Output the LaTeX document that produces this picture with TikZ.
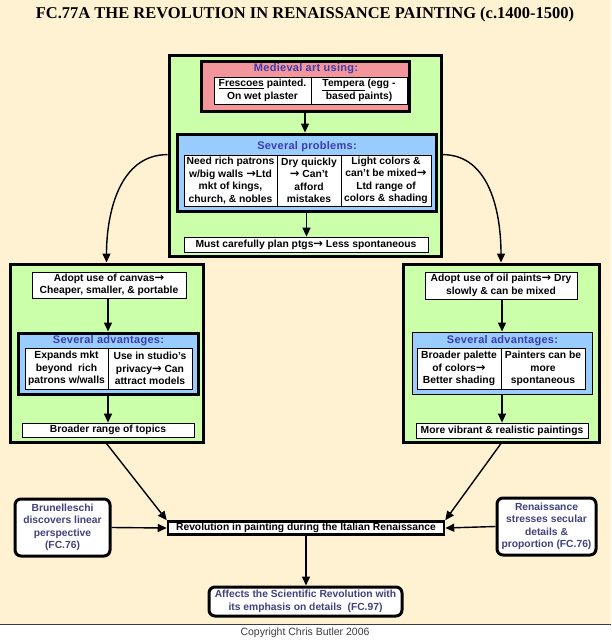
\documentclass[tikz,border=0pt]{standalone}
\usepackage{fontspec}
\setmainfont{Liberation Sans}
\newfontfamily\titlefont{Liberation Serif}
\newfontfamily\arrowfont{DejaVu Sans}
\newfontfamily\headfont[LetterSpace=2.5]{Liberation Sans}
\newcommand{\rarr}{{\arrowfont\bfseries\fontsize{11.5}{10}\selectfont →}}
\usetikzlibrary{arrows.meta}
\definecolor{cream}{RGB}{255,242,210}
\definecolor{greenbg}{RGB}{204,255,170}
\definecolor{pinkbg}{RGB}{242,150,155}
\definecolor{bluebg}{RGB}{153,204,255}
\definecolor{headblue}{RGB}{60,60,175}
\definecolor{bottext}{RGB}{65,65,125}
\definecolor{rulegray}{RGB}{60,60,60}
\tikzset{
  body/.style={font=\fontsize{10.3}{12.5}\selectfont\bfseries, align=center},
  frame/.style={draw, line width=3pt, inner sep=0pt},
  greenbox/.style={frame, fill=greenbg},
  cell/.style={body, draw, fill=white, line width=0.8pt, inner sep=0pt},
  head/.style={font=\headfont\fontsize{11}{13}\selectfont\bfseries, text=headblue, inner sep=0pt},
  arr/.style={-{Triangle[length=9pt,width=8pt]}, line width=1.4pt},
  rbox/.style={body, draw, line width=3pt, rounded corners=6pt, fill=white, text=bottext, inner sep=0pt},
}
\begin{document}
\begin{tikzpicture}[x=1pt,y=-1pt]
\useasboundingbox (0,0) rectangle (611,640);
\fill[cream] (0,0) rectangle (611,624);
\fill[white] (0,624) rectangle (611,640);
\draw[rulegray, line width=1pt] (0,624) -- (611,624);

\node[font=\titlefont\fontsize{16.5}{18}\selectfont\bfseries] (title) at (305,15) {FC.77A THE REVOLUTION IN RENAISSANCE PAINTING (c.1400-1500)};

% top green
\node[greenbox, minimum width=272pt, minimum height=201pt] (topgreen) at (305,155.5) {};
\node[frame, fill=pinkbg, minimum width=208pt, minimum height=50pt] (pink) at (305,86) {};
\node[head] (pinkhead) at (306,69) {Medieval art using:};
\node[cell, minimum width=97pt, minimum height=27pt] (fres) at (262.5,90.5) {\underline{Frescoes} painted.\\On wet plaster};
\node[cell, minimum width=96pt, minimum height=27pt] (temp) at (359,90.5) {\underline{Tempera} (egg -\\based paints)};
\node[frame, fill=bluebg, minimum width=259pt, minimum height=77pt] (probs) at (306.5,172.5) {};
\node[head] (probshead) at (307,147) {Several problems:};
\node[cell, minimum width=93pt, minimum height=51pt] (pa) at (230.5,180.5) {Need rich patrons\\w/big walls \rarr Ltd\\mkt of kings,\\church, \& nobles};
\node[cell, minimum width=64pt, minimum height=51pt] (pb) at (309,180.5) {Dry quickly\\\rarr\ Can't\\afford\\mistakes};
\node[cell, minimum width=90pt, minimum height=51pt] (pc) at (386,180.5) {Light colors \&\\can't be mixed\rarr\\Ltd range of\\colors \& shading};
\node[cell, minimum width=244pt, minimum height=15pt] (must) at (306,244.5) {Must carefully plan ptgs\rarr\ Less spontaneous};
\draw[arr] (pink.south) -- (pink.south |- probs.north);
\draw[arr] (probs.south) -- (probs.south |- must.north);

% left green
\node[greenbox, minimum width=193pt, minimum height=178pt] (leftgreen) at (106.5,353) {};
\node[cell, minimum width=154pt, minimum height=26pt] (canvas) at (109,285) {Adopt use of canvas\rarr\\Cheaper, smaller, \& portable};
\node[frame, fill=bluebg, minimum width=180pt, minimum height=61pt] (advl) at (108,363.5) {};
\node[head] (advlhead) at (108.5,340.5) {Several advantages:};
\node[cell, minimum width=83pt, minimum height=41pt] (la) at (66.5,368.5) {Expands mkt\\beyond\ \ rich\\patrons w/walls};
\node[cell, minimum width=84pt, minimum height=41pt] (lb) at (150,368.5) {Use in studio's\\privacy\rarr\ Can\\attract models};
\node[cell, minimum width=172pt, minimum height=14pt] (topics) at (108,430) {Broader range of topics};
\draw[arr] (canvas.south -| advl.north) -- (advl.north);
\draw[arr] (advl.south) -- (advl.south |- topics.north);

% right green
\node[greenbox, minimum width=196pt, minimum height=178pt] (rightgreen) at (501,353) {};
\node[cell, minimum width=152pt, minimum height=27pt] (oil) at (501,285.5) {Adopt use of oil paints\rarr\ Dry\\slowly \& can be mixed};
\node[draw, line width=1pt, fill=bluebg, minimum width=180pt, minimum height=62pt, inner sep=0pt] (advr) at (502,363) {};
\node[head] (advrhead) at (502.5,340.5) {Several advantages:};
\node[cell, minimum width=84pt, minimum height=41pt] (ra) at (459,368.5) {Broader palette\\of colors\rarr\\Better shading};
\node[cell, minimum width=84pt, minimum height=41pt] (rb) at (543,368.5) {Painters can be\\more\\spontaneous};
\node[cell, minimum width=172pt, minimum height=15pt] (vivid) at (502,430.5) {More vibrant \& realistic paintings};
\draw[arr] (oil.south -| advr.north) -- (advr.north);
\draw[arr] (advr.south) -- (advr.south |- vivid.north);

% curved connectors
\draw[arr] (topgreen.west |- pa.north) to[out=180,in=90] (leftgreen.north);
\draw[arr] (topgreen.east |- pc.north) to[out=0,in=90] (rightgreen.north);

% bottom
\node[draw, fill=white, line width=2.5pt, minimum width=276pt, minimum height=13pt, inner sep=0pt, font=\fontsize{10.3}{12}\selectfont\bfseries] (rev) at (306,528) {Revolution in painting during the Italian Renaissance};
\node[rbox, minimum width=95pt, minimum height=57pt] (bru) at (62.5,527.5) {Brunelleschi\\discovers linear\\perspective\\(FC.76)};
\node[rbox, minimum width=99pt, minimum height=57pt] (ren) at (546.5,526.5) {Renaissance\\stresses secular\\details \&\\proportion (FC.76)};
\node[rbox, minimum width=193pt, minimum height=29pt] (aff) at (305.5,601.5) {Affects the Scientific Revolution with\\its emphasis on details\ \ (FC.97)};
\draw[arr] (leftgreen.south) -- (rev.north west);
\draw[arr] (rightgreen.south) -- (rev.north east);
\draw[arr] (bru.east) -- (rev.west);
\draw[arr] (ren.west) -- (rev.east);
\draw[arr] (rev.south) -- (rev.south |- aff.north);

\node[font=\fontsize{10.5}{12}\selectfont, text=rulegray] (copy) at (305,632.5) {Copyright Chris Butler 2006};
\end{tikzpicture}
\end{document}
